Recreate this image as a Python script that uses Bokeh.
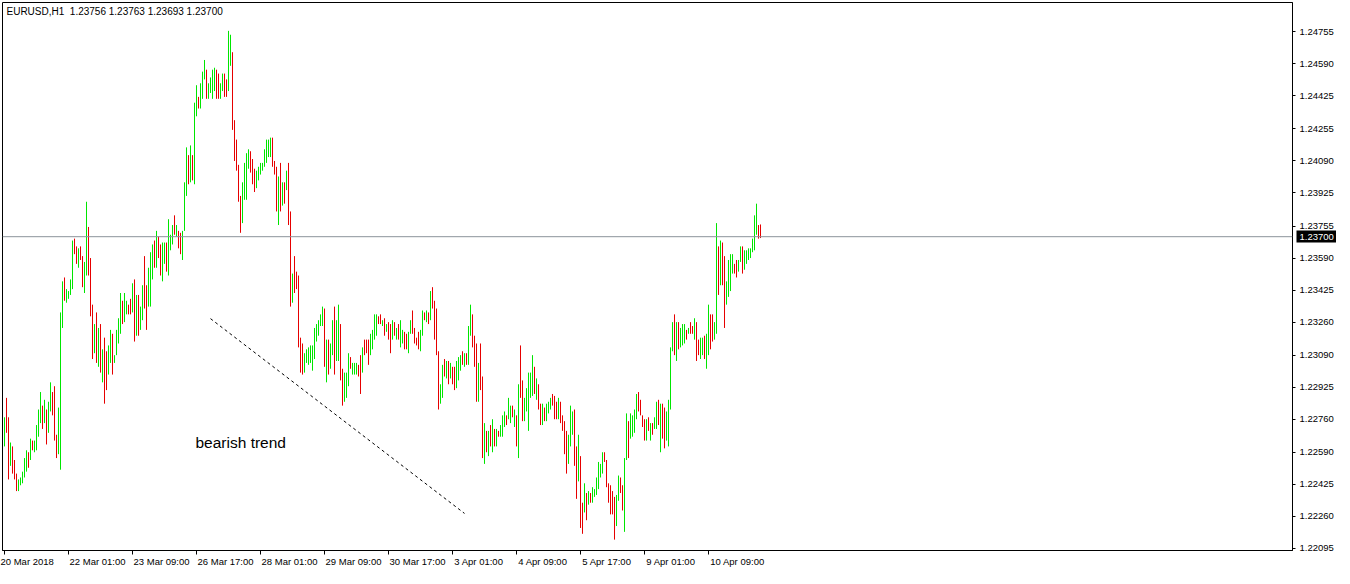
from bokeh.plotting import figure
from bokeh.models import ColumnDataSource, Range1d, FixedTicker, Label, Span, LinearAxis
from bokeh.embed import file_html
from bokeh.resources import INLINE

info_text = "EURUSD,H1\u00a0 1.23756 1.23763 1.23693 1.23700"

high = [
1.2277,1.2287,1.2277,1.2264,1.2262,1.2255,1.2248,1.2245,1.2246,1.2249,
1.2256,1.2260,1.2259,1.2266,1.2265,1.2265,1.2273,1.2281,1.2290,1.2283,
1.2286,1.2281,1.2285,1.2295,1.2290,1.2293,1.2268,1.2282,1.2331,1.2347,
1.2349,1.2343,1.2342,1.2348,1.2368,1.2369,1.2365,1.2364,1.2365,1.2360,
1.2357,1.2388,1.2375,1.2359,1.2335,1.2325,1.2331,1.2323,1.2325,1.2312,
1.2318,1.2311,1.2314,1.2322,1.2320,1.2309,1.2322,1.2328,1.2341,1.2337,
1.2341,1.2337,1.2335,1.2338,1.2346,1.2348,1.2340,1.2340,1.2334,1.2345,
1.2360,1.2345,1.2354,1.2362,1.2366,1.2368,1.2373,1.2370,1.2366,1.2367,
1.2367,1.2367,1.2379,1.2371,1.2376,1.2381,1.2376,1.2373,1.2372,1.2373,
1.2398,1.2416,1.2412,1.2417,1.2412,1.2439,1.2448,1.2442,1.2449,1.2455,
1.2461,1.2456,1.2449,1.2452,1.2456,1.2457,1.2456,1.2454,1.2449,1.2454,
1.2454,1.2451,1.2476,1.2474,1.2465,1.2430,1.2420,1.2407,1.2391,1.2398,
1.2408,1.2413,1.2415,1.2414,1.2410,1.2405,1.2404,1.2406,1.2408,1.2408,
1.2415,1.2420,1.2420,1.2421,1.2421,1.2409,1.2406,1.2401,1.2408,1.2398,
1.2398,1.2404,1.2408,1.2383,1.2351,1.2360,1.2352,1.2350,1.2318,1.2315,
1.2310,1.2312,1.2313,1.2314,1.2314,1.2323,1.2325,1.2327,1.2330,1.2334,
1.2333,1.2317,1.2317,1.2315,1.2327,1.2334,1.2327,1.2335,1.2325,1.2302,
1.2300,1.2300,1.2310,1.2308,1.2305,1.2305,1.2305,1.2304,1.2309,1.2313,
1.2317,1.2317,1.2317,1.2320,1.2322,1.2330,1.2330,1.2329,1.2330,1.2327,
1.2328,1.2325,1.2326,1.2325,1.2327,1.2326,1.2323,1.2325,1.2327,1.2322,
1.2321,1.2320,1.2321,1.2327,1.2332,1.2323,1.2318,1.2321,1.2322,1.2332,
1.2331,1.2332,1.2331,1.2342,1.2344,1.2337,1.2333,1.2311,1.2294,1.2304,
1.2307,1.2306,1.2306,1.2305,1.2303,1.2303,1.2306,1.2308,1.2309,1.2311,
1.2310,1.2310,1.2324,1.2335,1.2330,1.2319,1.2315,1.2305,1.2315,1.2298,
1.2274,1.2270,1.2270,1.2273,1.2276,1.2271,1.2271,1.2270,1.2273,1.2278,
1.2280,1.2278,1.2287,1.2283,1.2283,1.2281,1.2278,1.2294,1.2314,1.2296,
1.2287,1.2292,1.2300,1.2300,1.2309,1.2303,1.2297,1.2294,1.2284,1.2284,
1.2282,1.2284,1.2285,1.2287,1.2289,1.2288,1.2285,1.2287,1.2285,1.2278,
1.2275,1.2270,1.2268,1.2283,1.2280,1.2281,1.2262,1.2268,1.2257,1.2233,
1.2243,1.2238,1.2239,1.2238,1.2241,1.2240,1.2246,1.2254,1.2253,1.2259,
1.2259,1.2255,1.2243,1.2242,1.2239,1.2236,1.2237,1.2247,1.2246,1.2242,
1.2256,1.2279,1.2275,1.2279,1.2278,1.2281,1.2289,1.2290,1.2286,1.2278,
1.2276,1.2276,1.2277,1.2274,1.2274,1.2277,1.2285,1.2286,1.2284,1.2284,
1.2282,1.2280,1.2286,1.2313,1.2326,1.2330,1.2326,1.2326,1.2323,1.2325,
1.2325,1.2322,1.2323,1.2326,1.2324,1.2328,1.2326,1.2317,1.2318,1.2318,
1.2319,1.2320,1.2335,1.2330,1.2330,1.2326,1.2377,1.2365,1.2368,1.2367,
1.2360,1.2347,1.2358,1.2361,1.2361,1.2356,1.2358,1.2358,1.2365,1.2365,
1.2363,1.2363,1.2364,1.2364,1.2369,1.2381,1.2387,1.2376,1.23763,
]

low = [
1.2262,1.2269,1.2245,1.2252,1.2248,1.2245,1.2239,1.2239,1.2242,1.2243,
1.2246,1.2249,1.2251,1.2255,1.2260,1.2259,1.2260,1.2267,1.2274,1.2271,
1.2274,1.2263,1.2269,1.2280,1.2278,1.2265,1.2256,1.2258,1.2250,1.2323,
1.2337,1.2336,1.2338,1.2340,1.2343,1.2361,1.2356,1.2354,1.2358,1.2344,
1.2341,1.2350,1.2350,1.2329,1.2307,1.2310,1.2305,1.2303,1.2300,1.2295,
1.2284,1.2291,1.2299,1.2305,1.2299,1.2305,1.2309,1.2315,1.2320,1.2325,
1.2326,1.2330,1.2330,1.2330,1.2331,1.2316,1.2319,1.2319,1.2322,1.2327,
1.2333,1.2322,1.2334,1.2334,1.2348,1.2354,1.2354,1.2359,1.2350,1.2347,
1.2356,1.2352,1.2350,1.2363,1.2366,1.2371,1.2370,1.2364,1.2361,1.2358,
1.2373,1.2391,1.2397,1.2398,1.2399,1.2397,1.2432,1.2436,1.2436,1.2441,
1.2451,1.2441,1.2441,1.2444,1.2441,1.2445,1.2441,1.2441,1.2441,1.2445,
1.2442,1.2442,1.2445,1.2458,1.2425,1.2409,1.2404,1.2388,1.2372,1.2377,
1.2389,1.2389,1.2405,1.2403,1.2397,1.2393,1.2395,1.2399,1.2402,1.2404,
1.2406,1.2408,1.2411,1.2411,1.2406,1.2402,1.2383,1.2376,1.2383,1.2386,
1.2387,1.2394,1.2376,1.2334,1.2336,1.2341,1.2343,1.2313,1.2300,1.2299,
1.2300,1.2305,1.2304,1.2305,1.2301,1.2307,1.2316,1.2319,1.2324,1.2324,
1.2303,1.2295,1.2299,1.2302,1.2309,1.2299,1.2306,1.2306,1.2296,1.2283,
1.2285,1.2287,1.2293,1.2302,1.2299,1.2299,1.2299,1.2298,1.2289,1.2300,
1.2309,1.2310,1.2304,1.2309,1.2312,1.2317,1.2319,1.2325,1.2325,1.2324,
1.2319,1.2321,1.2317,1.2310,1.2317,1.2319,1.2317,1.2317,1.2313,1.2315,
1.2312,1.2312,1.2310,1.2320,1.2320,1.2315,1.2314,1.2312,1.2311,1.2319,
1.2327,1.2326,1.2325,1.2327,1.2333,1.2317,1.2309,1.2281,1.2284,1.2287,
1.2298,1.2297,1.2294,1.2297,1.2294,1.2291,1.2292,1.2296,1.2301,1.2304,
1.2303,1.2304,1.2304,1.2319,1.2313,1.2303,1.2285,1.2285,1.2291,1.2256,
1.2253,1.2259,1.2257,1.2262,1.2259,1.2262,1.2262,1.2267,1.2267,1.2267,
1.2272,1.2273,1.2276,1.2274,1.2277,1.2272,1.2262,1.2256,1.2287,1.2275,
1.2275,1.2280,1.2270,1.2287,1.2288,1.2289,1.2286,1.2281,1.2273,1.2273,
1.2275,1.2275,1.2279,1.2281,1.2283,1.2276,1.2276,1.2276,1.2274,1.2270,
1.2258,1.2248,1.2253,1.2262,1.2268,1.2252,1.2235,1.2244,1.2220,1.2217,
1.2228,1.2224,1.2232,1.2233,1.2233,1.2236,1.2237,1.2240,1.2246,1.2248,
1.2254,1.2241,1.2233,1.2227,1.2227,1.2214,1.2221,1.2234,1.2238,1.2229,
1.2218,1.2255,1.2256,1.2266,1.2267,1.2269,1.2276,1.2280,1.2278,1.2272,
1.2265,1.2265,1.2270,1.2265,1.2268,1.2271,1.2271,1.2273,1.2259,1.2266,
1.2261,1.2265,1.2262,1.2281,1.2311,1.2309,1.2306,1.2312,1.2313,1.2314,
1.2315,1.2317,1.2320,1.2320,1.2320,1.2317,1.2306,1.2309,1.2307,1.2309,
1.2307,1.2302,1.2309,1.2312,1.2316,1.2317,1.2320,1.2340,1.2345,1.2345,
1.2323,1.2335,1.2339,1.2342,1.2351,1.2351,1.2349,1.2352,1.2357,1.2351,
1.2353,1.2356,1.2358,1.2359,1.2362,1.2363,1.2371,1.2369,1.23693,
]

# G = bullish bar, R = bearish bar
bar_dir = (
"GRRGRRRGGG" "GGRGRGGGGR" "GRGGRRRGGG" "RGGGGRRGRR" "GGRRRGRGRG"
"RRGGRGGGGR" "GGRRGRGRGG" "RRGGGRGRRG" "GRGGGRGRRG" "GGRGRGGRGG"
"GRGGGGRRGG" "RRGGRRRRRG" "GGGRRRGGGG" "GGGGRRRGRG" "RGRRGRRRRR"
"GGGGGGGGGG" "RGRGGRGGRR" "GGGRGGGRRG" "RRRGGGGRRG" "RGRRGRGRGG"
"RRGGRRRRGG" "RGRGRRRRGG" "RGRGRRGGGR" "GRGGRRRGRR" "GRGRGRGRGG"
"GRGGRGRGRR" "GGGGGRGRRG" "RGGGRRRGRR" "RRGGGRRGRR" "GRGRGGGGGG"
"RRRRRRGGRR" "GGRGGGGRRR" "RGRGRGGRGR" "RGGGGRGRGG" "GRGRRGRRGG"
"RGGRRGGRGR" "RGGGGRRGGR" "GGGGGGGRR"
)

date_tick_bars = [0, 32, 64, 96, 128, 160, 192, 224, 256, 288, 320, 352]
date_labels = ["20 Mar 2018", "22 Mar 01:00", "23 Mar 09:00", "26 Mar 17:00",
               "28 Mar 01:00", "29 Mar 09:00", "30 Mar 17:00", "3 Apr 01:00",
               "4 Apr 09:00", "5 Apr 17:00", "9 Apr 01:00", "10 Apr 09:00"]
price_ticks = [1.24755, 1.24590, 1.24425, 1.24255, 1.24090, 1.23925, 1.23755,
               1.23590, 1.23425, 1.23260, 1.23090, 1.22925, 1.22760, 1.22590,
               1.22425, 1.22260, 1.22095]
price_labels = ["%.5f" % t for t in price_ticks]
last_price = 1.23700
trend_x = [103, 230]
trend_y = [1.23278, 1.22275]
note_text = "bearish trend"
note_x, note_y = 95.5, 1.22640

UP_COLOR = "#00e600"
DOWN_COLOR = "#e60000"
FONT = "Liberation Sans"
AXIS_FS = 9.5

# approximate advance widths (em) of Liberation Sans, used to left-align date labels at their ticks
_em = {" ": 0.278, ":": 0.278, "M": 0.833, "a": 0.556, "r": 0.333, "A": 0.667, "p": 0.556}
def left_aligned(label, gap_px=1.5):
    w = sum(_em.get(c, 0.556) for c in label) * AXIS_FS
    nb = 0.278 * AXIS_FS
    n = int(round((w + 2 * gap_px) / nb))
    return "\u00a0" * n + label

n = len(high)
src = ColumnDataSource(dict(
    x=list(range(n)), high=high, low=low,
    color=[UP_COLOR if d == "G" else DOWN_COLOR for d in bar_dir],
))

FRAME_W = 1290
FRAME_H = 548
X0 = -1.0
p = figure(frame_width=FRAME_W, frame_height=FRAME_H, output_backend="svg", toolbar_location=None,
           x_range=Range1d(X0, X0 + FRAME_W / 2), y_range=Range1d(1.22084, 1.24906),
           y_axis_location="right", min_border_left=2, min_border_top=2,
           min_border_right=40, min_border_bottom=16)
p.grid.visible = False
p.outline_line_color = "black"
p.outline_line_width = 1
p.background_fill_color = "white"
p.border_fill_color = "white"

p.segment(x0="x", y0="low", x1="x", y1="high", line_color="color", line_width=1, source=src)

p.add_layout(Span(location=last_price, dimension="width", line_color="#8c939b", line_width=1))

# trend line (drawn object)
p.line(trend_x, trend_y, line_color="black", line_width=1, line_dash="3 3")

p.add_layout(Label(x=note_x, y=note_y, text=note_text, text_font=FONT,
                   text_font_size="15.5px", text_color="black", text_baseline="alphabetic"))

# y axis (right)
ya = p.yaxis[0]
ya.ticker = FixedTicker(ticks=price_ticks)
ya.major_label_overrides = {t: l for t, l in zip(price_ticks, price_labels)}
ya.major_tick_in = 0
ya.major_tick_out = 3
ya.minor_tick_out = 0
ya.minor_tick_in = 0
ya.major_label_standoff = 4
ya.major_label_text_font = FONT
ya.major_label_text_font_size = "%gpx" % AXIS_FS
ya.major_label_text_color = "black"
ya.axis_line_color = "black"

# current price marker on the price scale: black box (a thick tick) with white text
pa = LinearAxis(ticker=FixedTicker(ticks=[last_price]),
                major_label_overrides={last_price: "%.5f" % last_price},
                major_tick_in=40, major_tick_out=1, minor_tick_in=0, minor_tick_out=0,
                major_tick_line_width=12, major_tick_line_color="black",
                axis_line_color=None, major_label_standoff=-38,
                major_label_text_font=FONT, major_label_text_font_size="%gpx" % AXIS_FS,
                major_label_text_color="white")
p.add_layout(pa, "right")

# x axis (bottom)
xa = p.xaxis[0]
xa.ticker = FixedTicker(ticks=date_tick_bars)
xa.major_label_overrides = {t: (l if i == 0 else left_aligned(l))
                            for i, (t, l) in enumerate(zip(date_tick_bars, date_labels))}
xa.major_tick_in = 0
xa.major_tick_out = 4
xa.minor_tick_out = 0
xa.minor_tick_in = 0
xa.major_label_standoff = 1
xa.axis_line_color = "black"
xa.major_label_text_font = FONT
xa.major_label_text_font_size = "%gpx" % AXIS_FS
xa.major_label_text_color = "black"

p.add_layout(Label(x=X0, y=1.24906, x_offset=4, y_offset=-3, text=info_text,
                   text_align="left", text_baseline="top",
                   text_font=FONT, text_font_size="10px", text_color="black"))

open("out.html", "w").write(file_html(p, INLINE))
